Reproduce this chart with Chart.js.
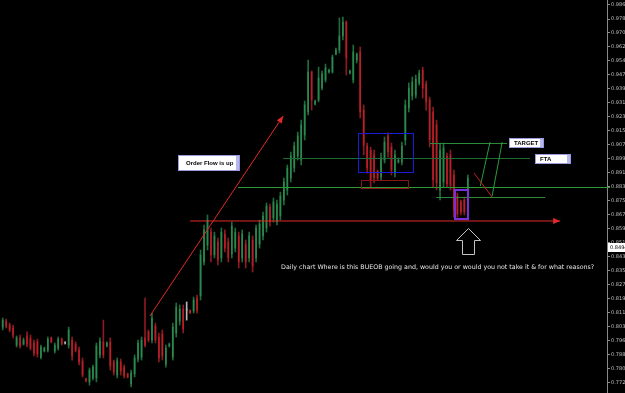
<!DOCTYPE html>
<html>
<head>
<meta charset="utf-8">
<script src="https://cdn.jsdelivr.net/npm/chart.js@4.4.1/dist/chart.umd.min.js"></script>
<style>
  html, body { margin: 0; padding: 0; background: #000; }
  #chart { display: block; }
</style>
</head>
<body>
<canvas id="chart" width="625" height="393"></canvas>
<script>
// ── Daily candles (bar index 0 = oldest) ────────────────────────────────────
const opens = [
  .8037, .8071, .8049, .8032, .7935, .7976, .7941, .7987, .7976, .7947,
  .7953, .7867, .7901, .7907, .7976, .7901, .7918, .7969, .7947, .7935,
  .7964, .7941, .7907, .7845, .7743, .7726, .7748, .7748, .7879, .7953,
  .7930, .7953, .7839, .7765, .7839, .7810, .7771, .7714, .7771, .7856,
  .7867, .7976, .8010, .7964, .8043, .7981, .7998, .7827, .7930, .7867,
  .8004, .8071, .8140, .8134, .8134, .8129, .8202, .8214, .8407, .8503,
  .8577, .8447, .8521, .8430, .8566, .8521, .8452, .8486, .8555, .8430,
  .8509, .8430, .8532, .8430, .8509, .8555, .8600, .8719, .8657, .8634,
  .8668, .8759, .8816, .8884, .8941, .9009, .8986, .9128, .9259, .9486,
  .9304, .9327, .9395, .9441, .9486, .9486, .9588, .9611, .9691, .9770,
  .9480, .9441, .9554, .9600, .9270, .9066, .9043, .9015, .8924, .8890,
  .8986, .9123, .9060, .8912, .8975, .8975, .9100, .9282, .9350, .9355,
  .9424, .9497, .9418, .9327, .9259, .9185, .8816, .8861, .9009, .9015,
  .8901, .8782, .8748, .8759, .8770
];
const highs = [
  .8089, .8083, .8060, .8049, .7987, .7992, .7976, .8010, .7992, .7964,
  .7969, .7935, .7924, .7981, .7981, .7947, .7981, .7976, .7953, .8037,
  .7981, .7953, .7924, .7862, .7748, .7805, .7822, .7947, .7976, .8077,
  .7953, .7976, .7850, .7862, .7856, .7822, .7776, .7793, .7879, .7964,
  .7981, .8202, .8021, .8117, .8060, .8004, .8021, .7935, .7947, .8060,
  .8174, .8163, .8163, .8180, .8134, .8208, .8219, .8475, .8617, .8674,
  .8600, .8577, .8543, .8600, .8589, .8543, .8634, .8600, .8577, .8589,
  .8532, .8577, .8555, .8617, .8645, .8691, .8742, .8736, .8770, .8759,
  .8804, .8884, .8958, .9032, .9088, .9145, .9213, .9321, .9554, .9492,
  .9327, .9514, .9492, .9531, .9503, .9583, .9622, .9793, .9798, .9776,
  .9497, .9639, .9594, .9628, .9299, .9083, .9060, .9043, .8929, .9026,
  .9117, .9140, .9083, .9043, .8998, .9088, .9327, .9424, .9458, .9469,
  .9497, .9514, .9435, .9344, .9287, .9213, .9083, .9083, .9026, .9043,
  .8929, .8799, .8759, .8776, .8901
];
const lows = [
  .8021, .8032, .8010, .7976, .7924, .7918, .7935, .7924, .7907, .7873,
  .7867, .7856, .7896, .7896, .7947, .7890, .7907, .7935, .7941, .7918,
  .7850, .7896, .7822, .7754, .7726, .7708, .7737, .7726, .7862, .7862,
  .7924, .7793, .7765, .7748, .7765, .7748, .7748, .7697, .7754, .7839,
  .7850, .7924, .7953, .7947, .7947, .7839, .7850, .7810, .7924, .7850,
  .7981, .8049, .8004, .8077, .8117, .8117, .8117, .8191, .8390, .8475,
  .8407, .8430, .8390, .8407, .8464, .8407, .8430, .8464, .8373, .8407,
  .8373, .8407, .8350, .8407, .8486, .8532, .8577, .8611, .8634, .8617,
  .8645, .8731, .8787, .8861, .8918, .8986, .8958, .9100, .9242, .9270,
  .9299, .9316, .9384, .9429, .9480, .9480, .9583, .9594, .9668, .9469,
  .9475, .9424, .9537, .9225, .9015, .8912, .8833, .8856, .8873, .8873,
  .8969, .9003, .8901, .8890, .8969, .8958, .9071, .9259, .9327, .9338,
  .9412, .9338, .9270, .9060, .8833, .8816, .8759, .8833, .8833, .8816,
  .8662, .8662, .8674, .8674, .8759
];
const closes = [
  .8077, .8043, .8021, .7992, .7976, .7930, .7964, .7941, .7918, .7890,
  .7884, .7924, .7918, .7969, .7953, .7935, .7969, .7941, .7947, .8021,
  .7873, .7907, .7839, .7765, .7731, .7793, .7810, .7930, .7958, .7879,
  .7947, .7816, .7782, .7845, .7788, .7760, .7754, .7776, .7862, .7947,
  .7964, .7935, .7964, .8089, .7964, .7862, .7873, .7918, .7941, .8037,
  .8151, .8140, .8026, .8134, .8117, .8191, .8134, .8447, .8589, .8645,
  .8447, .8555, .8418, .8577, .8486, .8430, .8611, .8577, .8407, .8566,
  .8407, .8555, .8384, .8600, .8623, .8668, .8725, .8634, .8748, .8736,
  .8782, .8861, .8941, .9009, .9066, .9123, .9185, .9299, .9486, .9327,
  .9321, .9452, .9475, .9509, .9497, .9571, .9611, .9691, .9770, .9566,
  .9492, .9600, .9588, .9259, .9071, .8941, .8873, .8884, .8884, .8998,
  .9088, .9032, .8929, .9015, .8986, .9066, .9299, .9395, .9429, .9446,
  .9480, .9395, .9316, .9100, .8873, .8856, .9043, .9055, .8850, .8844,
  .8702, .8679, .8691, .8691, .8884
];

// price scale labels on the right
const tickValues = [
  0.98670, 0.97870, 0.97090, 0.96290, 0.95490, 0.94710, 0.93910, 0.93110,
  0.92330, 0.91530, 0.90730, 0.89930, 0.89150, 0.88350, 0.87550, 0.86750,
  0.85970, 0.85170, 0.84370, 0.83570, 0.82790, 0.81990, 0.81190, 0.80390,
  0.79610, 0.78810, 0.78010, 0.77210
];
const lastPrice = 0.84943;

// ── Drawings (bar index, price) ─────────────────────────────────────────────
// [fromBar, toBar, price, colour]
const levelLines = [
  [80.8, 151.9, 0.8998, '#1e6e34'],
  [67.8, 175.0, 0.8833, '#2c9a34'],
  [123.1, 145.3, 0.9083, '#2a8a3a'],
  [124.9, 156.3, 0.8776, '#2a8a3a'],
];
// [bar1, price1, bar2, price2, colour]
const trendLines = [
  [137.6, 0.8838, 140.4, 0.9088, '#2a9a3a'],
  [141.0, 0.8782, 143.9, 0.9088, '#2a9a3a'],
  [135.8, 0.8912, 141.0, 0.8776, '#c82020'],
];
// red arrows [bar1, price1, bar2, price2]
const arrows = [
  [42.4, 0.8100, 80.8, 0.9236],
  [54.0, 0.8640, 160.6, 0.8640],
];
// rectangles [bar1, bar2, priceTop, priceBottom, colour, width]
const zones = [
  [102.4, 118.2, 0.9140, 0.8918, '#1c1cd8', 1],
  [103.3, 116.8, 0.8873, 0.8827, '#8b1414', 1],
  [130.3, 134.1, 0.8816, 0.8651, '#7b2fd6', 2],
];
// label boxes [text, bar1, bar2, priceTop, priceBottom]
const notes = [
  ['Order Flow is up', 50.5, 68.4, 0.9015, 0.8924],
  ['TARGET', 145.9, 156.0, 0.9111, 0.9054],
  ['FTA', 153.4, 163.8, 0.9020, 0.8963],
];
// hollow up arrow outline [bar, price]
const upArrow = [
  [134.1, 0.8600], [137.6, 0.8532], [135.8, 0.8532], [135.8, 0.8452],
  [132.4, 0.8452], [132.4, 0.8532], [130.6, 0.8532]
];
const caption = 'Daily chart Where is this BUEOB going and, would you or would you not take it & for what reasons?';
const captionAt = [80.2, 0.8378];

// ── Colours ─────────────────────────────────────────────────────────────────
const UP        = '#2a8a4e';
const DOWN      = '#b81f27';
const DOJI      = '#b4b4b4';
const UP_WICK   = '#1f6b3b';
const DOWN_WICK = '#8c1a20';

const idx = opens.map((_, i) => i);
function colorOf(i) {
    if (closes[i] > opens[i]) return UP;
    if (closes[i] < opens[i]) return DOWN;
    return DOJI;
}
function wickOf(i) {
    if (closes[i] > opens[i]) return UP_WICK;
    if (closes[i] < opens[i]) return DOWN_WICK;
    return DOJI;
}

// ── Overlay plugin: trend lines, boxes, labels ──────────────────────────────
const overlay = {
    id: 'overlay',
    beforeDraw(chart) {
        const ctx = chart.ctx;
        ctx.save();
        ctx.fillStyle = '#000';
        ctx.fillRect(0, 0, chart.width, chart.height);
        ctx.restore();
    },
    afterDatasetsDraw(chart) {
        const { ctx, scales: { x, y } } = chart;
        const px = v => x.getPixelForValue(v);
        const py = v => y.getPixelForValue(v);
        ctx.save();

        // horizontal levels
        levelLines.forEach(([a, b, p, c]) => {
            ctx.strokeStyle = c;
            ctx.lineWidth = 1;
            ctx.beginPath();
            ctx.moveTo(px(a), Math.round(py(p)) + 0.5);
            ctx.lineTo(px(b), Math.round(py(p)) + 0.5);
            ctx.stroke();
        });

        trendLines.forEach(([a, p1, b, p2, c]) => {
            ctx.strokeStyle = c;
            ctx.lineWidth = 1;
            ctx.beginPath();
            ctx.moveTo(px(a), py(p1));
            ctx.lineTo(px(b), py(p2));
            ctx.stroke();
        });

        // red arrows
        arrows.forEach(([a, p1, b, p2]) => {
            const x1 = px(a), y1 = py(p1), x2 = px(b), y2 = py(p2);
            ctx.strokeStyle = '#e02a2a';
            ctx.fillStyle = '#e02a2a';
            ctx.lineWidth = 1;
            ctx.beginPath();
            ctx.moveTo(x1, y1);
            ctx.lineTo(x2, y2);
            ctx.stroke();
            const ang = Math.atan2(y2 - y1, x2 - x1);
            const len = 7, w = 3;
            ctx.beginPath();
            ctx.moveTo(x2, y2);
            ctx.lineTo(x2 - len * Math.cos(ang) + w * Math.sin(ang), y2 - len * Math.sin(ang) - w * Math.cos(ang));
            ctx.lineTo(x2 - len * Math.cos(ang) - w * Math.sin(ang), y2 - len * Math.sin(ang) + w * Math.cos(ang));
            ctx.closePath();
            ctx.fill();
        });

        zones.forEach(([a, b, pt, pb, c, lw]) => {
            ctx.strokeStyle = c;
            ctx.lineWidth = lw;
            const off = lw % 2 ? 0.5 : 0;
            const x1 = Math.round(px(a)) + off, x2 = Math.round(px(b)) + off;
            const y1 = Math.round(py(pt)) + off, y2 = Math.round(py(pb)) + off;
            ctx.strokeRect(x1, y1, x2 - x1, y2 - y1);
        });

        // label boxes
        notes.forEach(([t, a, b, pt, pb]) => {
            const x1 = Math.round(px(a)), x2 = Math.round(px(b));
            const y1 = Math.round(py(pt)), y2 = Math.round(py(pb));
            ctx.fillStyle = '#ffffff';
            ctx.fillRect(x1, y1, x2 - x1, y2 - y1);
            ctx.fillStyle = '#b8b8ee';
            ctx.fillRect(x2 - 4, y1, 4, y2 - y1);
            ctx.strokeStyle = '#9a9ade';
            ctx.lineWidth = 1;
            ctx.strokeRect(x1 + 0.5, y1 + 0.5, x2 - x1 - 1, y2 - y1 - 1);
            ctx.fillStyle = '#000';
            ctx.font = 'bold 6px "Liberation Sans"';
            ctx.textBaseline = 'middle';
            ctx.textAlign = 'left';
            ctx.fillText(t, x1 + (t.length > 8 ? 8 : 5), (y1 + y2) / 2 + 0.5);
        });

        // hollow arrow
        ctx.strokeStyle = '#c4c4c4';
        ctx.lineWidth = 1;
        ctx.beginPath();
        upArrow.forEach(([a, p], k) => {
            const xx = Math.round(px(a)) + 0.5, yy = Math.round(py(p)) + 0.5;
            if (k === 0) ctx.moveTo(xx, yy); else ctx.lineTo(xx, yy);
        });
        ctx.closePath();
        ctx.stroke();

        // caption
        ctx.fillStyle = '#e4e4e4';
        ctx.font = '6.3px "DejaVu Sans"';
        ctx.textBaseline = 'middle';
        ctx.textAlign = 'left';
        ctx.fillText(caption, px(captionAt[0]), py(captionAt[1]));

        ctx.restore();
    },
    afterDraw(chart) {
        const { ctx, scales: { y } } = chart;
        const yy = Math.round(y.getPixelForValue(lastPrice));
        ctx.save();
        ctx.fillStyle = '#ffffff';
        ctx.fillRect(y.left + 1, yy - 4, y.width - 1, 9);
        ctx.fillStyle = '#000';
        ctx.font = '5px "DejaVu Sans"';
        ctx.textBaseline = 'middle';
        ctx.fillText(lastPrice.toFixed(5), y.left + 3, yy + 0.5);
        ctx.restore();
    }
};

new Chart(document.getElementById('chart'), {
    type: 'bar',
    data: {
        datasets: [
            {
                label: 'range',
                data: idx.map(i => ({ x: i, y: [lows[i], highs[i]] })),
                backgroundColor: idx.map(wickOf),
                barThickness: 1,
                grouped: false,
                order: 2,
            },
            {
                label: 'body',
                data: idx.map(i => ({ x: i, y: [opens[i], closes[i]] })),
                backgroundColor: idx.map(colorOf),
                barThickness: 1,
                minBarLength: 1,
                grouped: false,
                order: 1,
            },
        ],
    },
    options: {
        responsive: false,
        animation: false,
        layout: { padding: 0 },
        plugins: {
            legend: { display: false },
            tooltip: { enabled: false },
        },
        scales: {
            x: {
                type: 'linear',
                display: false,
                min: -0.78,
                max: 174.1,
                offset: false,
            },
            y: {
                position: 'right',
                min: 0.7663,
                max: 0.9895,
                afterBuildTicks: s => { s.ticks = tickValues.map(v => ({ value: v })); },
                afterFit: s => { s.width = 18; s.paddingTop = 0; s.paddingBottom = 0; },
                grid: { drawOnChartArea: false, drawTicks: true, tickLength: 3, color: '#8a8a8a' },
                border: { display: true, color: '#8a8a8a' },
                ticks: {
                    color: '#c0c0c0',
                    font: { size: 5, family: 'DejaVu Sans' },
                    padding: 1,
                    autoSkip: false,
                    callback: v => Number(v).toFixed(5),
                },
            },
        },
    },
    plugins: [overlay],
});
</script>
</body>
</html>
